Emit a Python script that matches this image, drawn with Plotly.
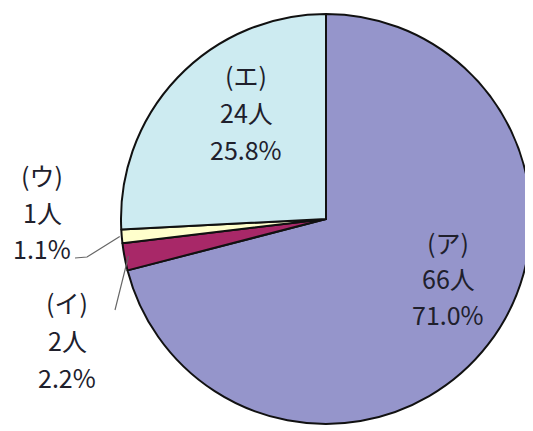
import math
import plotly.graph_objects as go

labels = ["(ア)", "(イ)", "(ウ)", "(エ)"]
counts = [66, 2, 1, 24]
colors = ["#9595CB", "#A82868", "#FFFFCC", "#CDEBF1"]

W, H = 533, 431
OFF = 8  # page body margin of the html output
CX, CY, R = 326, 219, 205  # pixel centre / radius of the pie on the page

total = sum(counts)
percents = [c / total * 100 for c in counts]


def px(x):
    return (x - OFF) / W


def py(y):
    return 1 - (y - OFF) / H


fig = go.Figure(go.Pie(
    labels=labels,
    values=counts,
    sort=False,
    direction="clockwise",
    rotation=0,
    marker=dict(colors=colors, line=dict(color="#111111", width=2)),
    textinfo="none",
    hoverinfo="label+value+percent",
    showlegend=False,
    domain=dict(x=[px(CX - R), px(CX + R)],
                y=[py(CY + R), py(CY - R)]),
))

# label placement (page pixel centres: x, first-line y, line step)
label_pos = {
    "(ア)": (448, 242, 36),
    "(イ)": (67, 302, 37.5),
    "(ウ)": (42, 175, 36.5),
    "(エ)": (246, 75, 37),
}

font = dict(family="Noto Sans CJK JP", size=25, color="#20202c")
annotations = []
for lab, c, p in zip(labels, counts, percents):
    x, y0, step = label_pos[lab]
    lines = [lab, f"{c}人", f"{p:.1f}%"]
    for i, t in enumerate(lines):
        annotations.append(dict(
            x=px(x), y=py(y0 + i * step), xref="paper", yref="paper",
            text=t, showarrow=False, font=font,
            xanchor="center", yanchor="middle",
        ))

# leader lines for the two small slices, anchored at each slice's mid-angle
cum = 0
mids = []
for c in counts:
    mids.append((cum + c / 2) / total * 2 * math.pi)
    cum += c


def edge(theta, rr=R):
    return CX + rr * math.sin(theta), CY - rr * math.cos(theta)


shapes = []
# (ウ)
ex, ey = edge(mids[2], R + 2)
shapes.append(dict(type="path", xref="paper", yref="paper",
                   path=f"M {px(75)},{py(258)} L {px(87)},{py(257)} L {px(ex)},{py(ey)}",
                   line=dict(color="#666666", width=1.2)))
# (イ)
ex, ey = edge(mids[1], R - 4)
shapes.append(dict(type="line", xref="paper", yref="paper",
                   x0=px(115), y0=py(310), x1=px(ex), y1=py(ey),
                   line=dict(color="#666666", width=1.2)))

fig.update_layout(
    width=W, height=H,
    margin=dict(l=0, r=0, t=0, b=0),
    paper_bgcolor="white",
    plot_bgcolor="white",
    annotations=annotations,
    shapes=shapes,
)

fig.write_html("out.html")
